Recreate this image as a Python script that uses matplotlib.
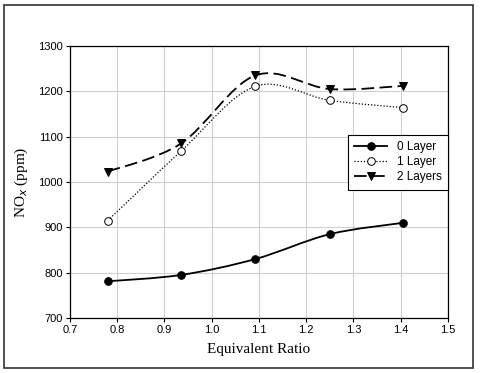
import numpy as np
import matplotlib

matplotlib.use("Agg")
import matplotlib.pyplot as plt
from matplotlib.path import Path
from matplotlib.patches import PathPatch, Rectangle
from matplotlib.lines import Line2D

# data
ratio = [0.78, 0.935, 1.092, 1.25, 1.405]
nox_0 = [781, 795, 830, 885, 910]
nox_1 = [915, 1068, 1211, 1180, 1164]
nox_2 = [1023, 1085, 1235, 1205, 1212]

SANS = ["Liberation Sans", "DejaVu Sans"]
SERIF = ["Liberation Serif", "DejaVu Serif"]


def smooth_path(x, y, tension=1.0 / 6.0):
    # Excel-like smoothed line: cubic Bezier segments through the points
    x = np.asarray(x, float)
    y = np.asarray(y, float)
    n = len(x)
    verts = [(x[0], y[0])]
    codes = [Path.MOVETO]
    for i in range(n - 1):
        i0 = max(i - 1, 0)
        i3 = min(i + 2, n - 1)
        c1 = (x[i] + (x[i + 1] - x[i0]) * tension, y[i] + (y[i + 1] - y[i0]) * tension)
        c2 = (x[i + 1] - (x[i3] - x[i]) * tension, y[i + 1] - (y[i3] - y[i]) * tension)
        verts += [c1, c2, (x[i + 1], y[i + 1])]
        codes += [Path.CURVE4] * 3
    return Path(verts, codes)


fig = plt.figure(figsize=(4.8, 3.73), dpi=100)
ax = fig.add_axes([70 / 480, 1 - 318 / 373, 378 / 480, 272 / 373])

# outer frame around the whole figure
fig.patches.append(Rectangle((4 / 480, 5 / 373), 469 / 480, 363 / 373, transform=fig.transFigure,
                             fill=False, edgecolor="#333333", linewidth=1.2))

series = [
    ("0 Layer", nox_0, "-", "o", "black", 1.3),
    ("1 Layer", nox_1, (0, (1, 1.5)), "o", "white", 0.9),
    ("2 Layers", nox_2, (0, (7, 3)), "v", "black", 1.3),
]

handles = []
for label, vals, ls, mk, mfc, lw in series:
    ax.add_patch(PathPatch(smooth_path(ratio, vals), fill=False, edgecolor="black",
                           linestyle=ls, linewidth=lw, zorder=2))
    ax.plot(ratio, vals, linestyle="none", marker=mk, markersize=5.5,
            markerfacecolor=mfc, markeredgecolor="black", markeredgewidth=0.7, zorder=3)
    handles.append(Line2D([], [], color="black", linestyle=ls, linewidth=lw, marker=mk,
                          markersize=5.5, markerfacecolor=mfc, markeredgecolor="black",
                          markeredgewidth=0.7, label=label))

ax.set_xlim(0.7, 1.5)
ax.set_ylim(700, 1300)
ax.set_xticks(np.arange(0.7, 1.51, 0.1))
ax.set_yticks(np.arange(700, 1301, 100))
ax.xaxis.set_major_formatter(matplotlib.ticker.FormatStrFormatter("%.1f"))
ax.grid(True, color="#d0d0d0", linewidth=0.8)
ax.set_axisbelow(True)
ax.tick_params(direction="out", length=3, width=0.8, labelsize=8, pad=2)
for lab in ax.get_xticklabels() + ax.get_yticklabels():
    lab.set_family(SANS)
for sp in ax.spines.values():
    sp.set_linewidth(0.9)

ax.set_xlabel("Equivalent Ratio", family=SERIF, fontsize=11, labelpad=6)
ax.set_ylabel("NO$_x$ (ppm)", family=SERIF, fontsize=11, labelpad=6)

leg = ax.legend(handles=handles, loc="upper right", bbox_to_anchor=(1.0, 0.673),
                borderaxespad=0, prop={"family": SANS, "size": 8.5}, frameon=True,
                fancybox=False, framealpha=1, edgecolor="black", handlelength=2.8,
                handletextpad=0.8, labelspacing=0.25, borderpad=0.55)
leg.get_frame().set_linewidth(0.8)

fig.savefig("out.png", dpi=100)
